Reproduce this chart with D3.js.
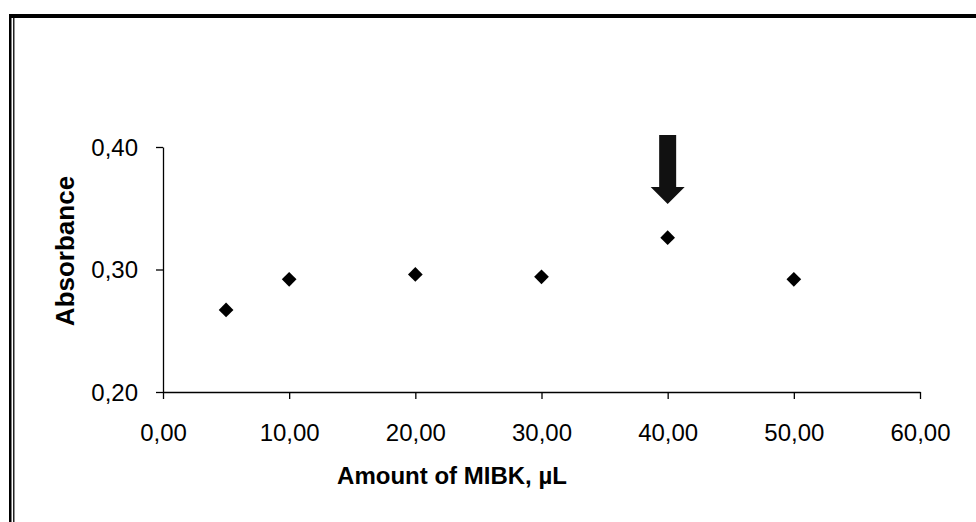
<!DOCTYPE html>
<html>
<head>
<meta charset="utf-8">
<script src="https://cdn.jsdelivr.net/npm/d3@7"></script>
<style>
  html, body { margin: 0; padding: 0; background: #fff; }
  svg { display: block; }
</style>
</head>
<body>
<svg id="chart" width="976" height="522"></svg>
<script>
// MIBK volume (µL) and measured absorbance
const mibkVolume = [5, 10, 20, 30, 40, 50];
const absorbance = [0.267, 0.292, 0.296, 0.294, 0.326, 0.292];
const xTicks = [0, 10, 20, 30, 40, 50, 60];
const yTicks = [0.20, 0.30, 0.40];
const highlightVolume = 40;

const FONT = "Liberation Sans, Arial, Helvetica, sans-serif";
const svg = d3.select("#chart");
const W = 976, H = 522;
const plot = { left: 163, right: 920, top: 147, bottom: 392 };

// page frame: thick rule at the top, double rule down the left side
svg.append("rect").attr("x", 9).attr("y", 14).attr("width", W - 9).attr("height", 4).attr("fill", "#000");
svg.append("rect").attr("x", 9).attr("y", 14).attr("width", 2.5).attr("height", H - 14).attr("fill", "#000");
svg.append("rect").attr("x", 13).attr("y", 18).attr("width", 1.5).attr("height", H - 18).attr("fill", "#222");

const x = d3.scaleLinear().domain([0, 60]).range([plot.left, plot.right]);
const y = d3.scaleLinear().domain([0.20, 0.40]).range([plot.bottom, plot.top]);
const comma = v => v.toFixed(2).replace(".", ",");

const xAxis = svg.append("g")
  .attr("transform", `translate(0,${plot.bottom})`)
  .call(d3.axisBottom(x).tickValues(xTicks).tickFormat(comma).tickSize(7).tickSizeOuter(0).tickPadding(25));
const yAxis = svg.append("g")
  .attr("transform", `translate(${plot.left},0)`)
  .call(d3.axisLeft(y).tickValues(yTicks).tickFormat(comma).tickSize(7).tickSizeOuter(0).tickPadding(18));

[xAxis, yAxis].forEach(g => {
  g.attr("font-family", FONT).attr("font-size", 24);
  g.select(".domain").attr("stroke", "#000").attr("stroke-width", 1.3);
  g.selectAll(".tick line").attr("stroke", "#000").attr("stroke-width", 1.3);
  g.selectAll(".tick text").attr("fill", "#000");
});
xAxis.selectAll(".tick text").attr("dy", "0.71em");
yAxis.selectAll(".tick text").attr("dy", "0.35em");

// data points as diamonds
svg.append("g").selectAll("path")
  .data(mibkVolume.map((v, i) => [v, absorbance[i]]))
  .join("path")
  .attr("transform", d => `translate(${x(d[0])},${y(d[1])}) rotate(45)`)
  .attr("d", d3.symbol().type(d3.symbolSquare).size(108))
  .attr("fill", "#000");

// arrow marking the optimum volume
const ax = x(highlightVolume);
const arrowTop = 135, headStart = 187, tip = 204;
svg.append("path")
  .attr("d", `M${ax - 8.5},${arrowTop} L${ax + 8.5},${arrowTop} L${ax + 8.5},${headStart} L${ax + 17},${headStart} L${ax},${tip} L${ax - 17},${headStart} L${ax - 8.5},${headStart} Z`)
  .attr("fill", "#111");

// axis titles
svg.append("text")
  .attr("x", 452).attr("y", 484)
  .attr("text-anchor", "middle")
  .attr("font-family", FONT)
  .attr("font-weight", "bold").attr("font-size", 24)
  .text("Amount of MIBK, µL");

svg.append("text")
  .attr("transform", `translate(74,251) rotate(-90)`)
  .attr("text-anchor", "middle")
  .attr("font-family", FONT)
  .attr("font-weight", "bold").attr("font-size", 26)
  .text("Absorbance");
</script>
</body>
</html>
